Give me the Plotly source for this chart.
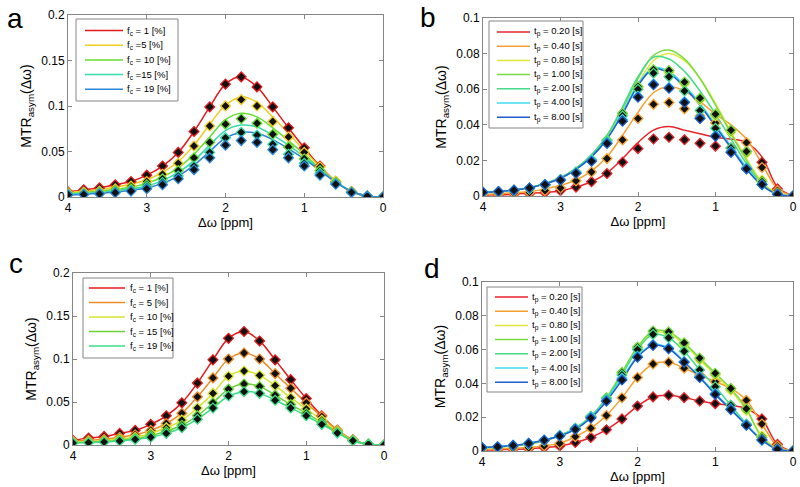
import plotly.graph_objects as go

# ── DATA ───────────────────────────────────────────────────────────────
delta_ppm = [4.0, 3.8, 3.6, 3.4, 3.2, 3.0, 2.8, 2.6, 2.4, 2.2, 2.0,
             1.8, 1.6, 1.4, 1.2, 1.0, 0.8, 0.6, 0.4, 0.2, 0.0]

# measured MTRasym, concentration series (panels a and c)
fc_labels = ["f<sub>c</sub> = 1 [%]", "f<sub>c</sub> =5 [%]", "f<sub>c</sub> = 10 [%]",
             "f<sub>c</sub> =15 [%]", "f<sub>c</sub> = 19 [%]"]
fc_labels_c = ["f<sub>c</sub> = 1 [%]", "f<sub>c</sub> = 5 [%]", "f<sub>c</sub> = 10 [%]",
               "f<sub>c</sub> = 15 [%]", "f<sub>c</sub> = 19 [%]"]
fc1_pts = [0.0056, 0.008, 0.010, 0.0135, 0.017, 0.024, 0.034, 0.049, 0.072, 0.099, 0.124,
           0.132, 0.121, 0.099, 0.076, 0.054, 0.034, 0.017, 0.006, 0.001, 0.0]
fc5_pts = [0.0047, 0.0054, 0.0066, 0.009, 0.012, 0.017, 0.025, 0.037, 0.056, 0.078, 0.100,
           0.107, 0.100, 0.083, 0.066, 0.049, 0.033, 0.0175, 0.006, 0.001, 0.0]
fc10_pts = [0.0035, 0.004, 0.005, 0.007, 0.009, 0.0135, 0.020, 0.029, 0.043, 0.060, 0.080,
            0.086, 0.081, 0.069, 0.055, 0.042, 0.029, 0.016, 0.0055, 0.001, 0.0]
fc15_pts = [0.0028, 0.0032, 0.004, 0.0055, 0.0075, 0.011, 0.016, 0.023, 0.034, 0.049, 0.065,
            0.071, 0.068, 0.058, 0.047, 0.037, 0.026, 0.015, 0.005, 0.001, 0.0]
fc19_pts = [0.0024, 0.0028, 0.0035, 0.0047, 0.0065, 0.009, 0.0135, 0.020, 0.030, 0.043, 0.057,
            0.062, 0.060, 0.052, 0.043, 0.034, 0.024, 0.014, 0.005, 0.001, 0.0]

# fitted curves, panel a
fit_a_fc1 = fc1_pts
fit_a_fc5 = [0.005, 0.0065, 0.008, 0.011, 0.014, 0.019, 0.027, 0.039, 0.057, 0.080, 0.101,
             0.110, 0.104, 0.088, 0.070, 0.051, 0.033, 0.017, 0.006, 0.001, 0.0]
fit_a_fc10 = [0.004, 0.005, 0.0065, 0.0085, 0.011, 0.015, 0.022, 0.032, 0.047, 0.066, 0.085,
              0.092, 0.088, 0.076, 0.062, 0.047, 0.031, 0.017, 0.006, 0.001, 0.0]
fit_a_fc15 = [0.003, 0.004, 0.005, 0.007, 0.009, 0.012, 0.018, 0.027, 0.040, 0.057, 0.073,
              0.079, 0.077, 0.068, 0.057, 0.044, 0.030, 0.017, 0.006, 0.001, 0.0]
fit_a_fc19 = [0.002, 0.003, 0.004, 0.0055, 0.0075, 0.010, 0.015, 0.023, 0.035, 0.050, 0.065,
              0.071, 0.070, 0.063, 0.053, 0.042, 0.029, 0.016, 0.006, 0.001, 0.0]

# measured MTRasym, saturation time series (panels b and d)
tp_labels = ["t<sub>p</sub> = 0.20 [s]", "t<sub>p</sub> = 0.40 [s]", "t<sub>p</sub> = 0.80 [s]",
             "t<sub>p</sub> = 1.00 [s]", "t<sub>p</sub> = 2.00 [s]", "t<sub>p</sub> = 4.00 [s]",
             "t<sub>p</sub> = 8.00 [s]"]
tp020_pts = [0.0005, 0.0007, 0.001, 0.0013, 0.002, 0.003, 0.005, 0.008, 0.0126, 0.019, 0.0266,
             0.032, 0.033, 0.0316, 0.0296, 0.028, 0.027, 0.025, 0.019, 0.004, 0.0]
tp040_pts = [0.001, 0.0012, 0.0016, 0.002, 0.003, 0.0045, 0.0085, 0.0135, 0.021, 0.0315, 0.0435,
             0.0515, 0.0525, 0.049, 0.045, 0.041, 0.037, 0.030, 0.016, 0.003, 0.0]
tp080_pts = [0.0018, 0.0022, 0.003, 0.004, 0.006, 0.009, 0.013, 0.020, 0.031, 0.046, 0.061,
             0.070, 0.0695, 0.063, 0.054, 0.045, 0.036, 0.024, 0.009, 0.0015, 0.0]
tp100_pts = [0.0019, 0.0023, 0.0031, 0.0042, 0.0062, 0.0092, 0.0135, 0.0205, 0.0315, 0.0465, 0.0615,
             0.071, 0.0705, 0.064, 0.055, 0.046, 0.037, 0.025, 0.008, 0.001, 0.0]
tp200_pts = [0.002, 0.0024, 0.0032, 0.0044, 0.0064, 0.0092, 0.0135, 0.0205, 0.031, 0.045, 0.060,
             0.069, 0.067, 0.059, 0.048, 0.038, 0.027, 0.016, 0.0065, 0.001, 0.0]
tp400_pts = [0.002, 0.0025, 0.0033, 0.0045, 0.0065, 0.009, 0.013, 0.020, 0.030, 0.043, 0.056,
             0.063, 0.061, 0.053, 0.044, 0.034, 0.025, 0.0155, 0.0065, 0.001, 0.0]
tp800_pts = [0.0021, 0.0025, 0.0033, 0.0045, 0.0064, 0.0089, 0.0128, 0.0195, 0.0295, 0.042, 0.0555,
             0.0625, 0.0605, 0.0525, 0.0435, 0.0335, 0.0245, 0.0152, 0.0065, 0.001, 0.0]

# fitted curves, panel b
fit_b_tp020 = [0.0005, 0.0007, 0.001, 0.0015, 0.002, 0.003, 0.005, 0.008, 0.013, 0.021, 0.030,
               0.037, 0.039, 0.037, 0.035, 0.033, 0.032, 0.030, 0.022, 0.005, 0.0]
fit_b_tp040 = [0.001, 0.0013, 0.0018, 0.0025, 0.004, 0.006, 0.009, 0.014, 0.022, 0.034, 0.047,
               0.058, 0.0615, 0.059, 0.053, 0.046, 0.040, 0.032, 0.018, 0.004, 0.0]
fit_b_tp080 = [0.002, 0.0025, 0.0033, 0.0046, 0.0068, 0.010, 0.015, 0.022, 0.033, 0.047, 0.063,
               0.076, 0.080, 0.076, 0.066, 0.052, 0.036, 0.021, 0.008, 0.0015, 0.0]
fit_b_tp100 = [0.002, 0.0025, 0.0034, 0.0047, 0.007, 0.0103, 0.0155, 0.023, 0.034, 0.049, 0.066,
               0.079, 0.082, 0.077, 0.066, 0.051, 0.035, 0.020, 0.007, 0.001, 0.0]
fit_b_tp200 = [0.002, 0.0025, 0.0034, 0.0047, 0.007, 0.0103, 0.0155, 0.023, 0.034, 0.050, 0.067,
               0.078, 0.077, 0.070, 0.059, 0.046, 0.032, 0.018, 0.006, 0.001, 0.0]
fit_b_tp400 = [0.002, 0.0025, 0.0033, 0.0046, 0.0068, 0.010, 0.015, 0.022, 0.032, 0.047, 0.063,
               0.072, 0.070, 0.062, 0.052, 0.040, 0.028, 0.016, 0.006, 0.001, 0.0]
fit_b_tp800 = [0.002, 0.0025, 0.0033, 0.0046, 0.0068, 0.010, 0.015, 0.022, 0.032, 0.046, 0.062,
               0.0715, 0.069, 0.061, 0.051, 0.039, 0.027, 0.015, 0.006, 0.001, 0.0]

colors_a = ["#e3191c", "#f0cc20", "#66dd33", "#35dcaa", "#2b85d8"]
colors_c = ["#e3191c", "#f08a28", "#d6e62c", "#6cd23a", "#3ade8a"]
colors_bd = ["#e8232a", "#f5a030", "#dde83a", "#78dc44", "#44dc88", "#40dcee", "#1f5ed0"]

FONT = "Liberation Sans, Arial, sans-serif"
GREY = "#858585"

W, H = 800, 487


def fx(px):
    return px / W


def fy(py):
    return 1 - py / H


fig = go.Figure()


def add_panel(xa, ya, colors, fits, points):
    for col, fit in zip(colors, fits):
        fig.add_trace(go.Scatter(
            x=delta_ppm, y=fit, mode="lines", showlegend=False,
            line=dict(color=col, width=1.5, shape="spline", smoothing=1.0),
            xaxis=xa, yaxis=ya,
        ))
    for col, pts in zip(colors, points):
        fig.add_trace(go.Scatter(
            x=delta_ppm, y=pts, mode="markers", showlegend=False,
            marker=dict(symbol="diamond", size=7.5, color="#111111",
                        line=dict(color=col, width=1.3)),
            xaxis=xa, yaxis=ya,
        ))


fc_pts = [fc1_pts, fc5_pts, fc10_pts, fc15_pts, fc19_pts]
tp_pts = [tp020_pts, tp040_pts, tp080_pts, tp100_pts, tp200_pts, tp400_pts, tp800_pts]

add_panel("x", "y", colors_a,
          [fit_a_fc1, fit_a_fc5, fit_a_fc10, fit_a_fc15, fit_a_fc19], fc_pts)
add_panel("x2", "y2", colors_bd,
          [fit_b_tp020, fit_b_tp040, fit_b_tp080, fit_b_tp100, fit_b_tp200, fit_b_tp400, fit_b_tp800],
          tp_pts)
add_panel("x3", "y3", colors_c, fc_pts, fc_pts)
add_panel("x4", "y4", colors_bd, tp_pts, tp_pts)

# ── AXES ───────────────────────────────────────────────────────────────
boxes = {  # left, right, top, bottom in window pixels
    "1": (68, 383, 15, 197),
    "2": (483, 793, 18, 196),
    "3": (73, 384, 273, 445),
    "4": (482, 793, 282, 451),
}
yranges = {"1": (0.2, 0.05), "2": (0.1, 0.02), "3": (0.2, 0.05), "4": (0.1, 0.02)}

common = dict(showline=True, mirror="ticks", linecolor=GREY, linewidth=1,
              ticks="inside", ticklen=4, tickcolor=GREY, showgrid=False,
              zeroline=False, automargin=False,
              tickfont=dict(family=FONT, size=12, color="black"))

layout = {}
for k, (l, r, t, b) in boxes.items():
    sfx = "" if k == "1" else k
    top, step = yranges[k]
    layout["xaxis" + sfx] = dict(
        common, domain=[fx(l), fx(r)], anchor="y" + sfx, range=[4, 0], dtick=1, tick0=0,
        title=dict(text="Δω [ppm]", font=dict(family=FONT, size=13, color="black"), standoff=3),
    )
    layout["yaxis" + sfx] = dict(
        common, domain=[fy(b), fy(t)], anchor="x" + sfx, range=[0, top], dtick=step,
        title=dict(text="MTR<sub>asym</sub>(Δω)", font=dict(family=FONT, size=14, color="black"),
                   standoff=6),
    )

# ── LEGEND BOXES (drawn by hand, MATLAB-style compact rows) ──────────────
# box left, top, right, bottom, first row y, row step, line x0, line x1, text x
legend_boxes = [
    ((76, 19, 178, 101, 30.5, 14.7, 85, 123, 125), fc_labels, colors_a),
    ((489, 21, 583, 128, 32, 14.2, 497, 530, 532), tp_labels, colors_bd),
    ((83, 278, 173, 358, 288, 14.5, 89, 125, 128), fc_labels_c, colors_c),
    ((487, 287, 582, 392, 297, 14.2, 495, 528, 530), tp_labels, colors_bd),
]
shapes = []
annotations = []
for (bl, bt, br, bb, y0, dy, lx0, lx1, tx), labels, colors in legend_boxes:
    shapes.append(dict(type="rect", xref="paper", yref="paper",
                       x0=fx(bl), x1=fx(br), y0=fy(bb), y1=fy(bt),
                       line=dict(color=GREY, width=1), fillcolor="white", layer="above"))
    for i, (lab, col) in enumerate(zip(labels, colors)):
        yy = fy(y0 + i * dy)
        shapes.append(dict(type="line", xref="paper", yref="paper",
                           x0=fx(lx0), x1=fx(lx1), y0=yy, y1=yy,
                           line=dict(color=col, width=1.5), layer="above"))
        annotations.append(dict(text=lab, x=fx(tx), y=yy, xref="paper", yref="paper",
                                showarrow=False, xanchor="left", yanchor="middle",
                                font=dict(family=FONT, size=9.5, color="black")))

panel_labels = [("a", 15, 19), ("b", 428, 17), ("c", 16, 263), ("d", 432, 268)]
for txt, px, py in panel_labels:
    annotations.append(dict(text=txt, x=fx(px), y=fy(py), xref="paper", yref="paper",
                            showarrow=False, xanchor="center", yanchor="middle",
                            font=dict(family=FONT, size=28, color="black")))

fig.update_layout(
    width=W, height=H, margin=dict(l=0, r=0, t=0, b=0),
    paper_bgcolor="white", plot_bgcolor="white", showlegend=False,
    shapes=shapes, annotations=annotations, **layout,
)

# the page's default 8px body margin would push the 800x487 figure off the window
fig.write_html("out.html", config={"displayModeBar": False},
               post_script="document.body.style.margin = '0';")
